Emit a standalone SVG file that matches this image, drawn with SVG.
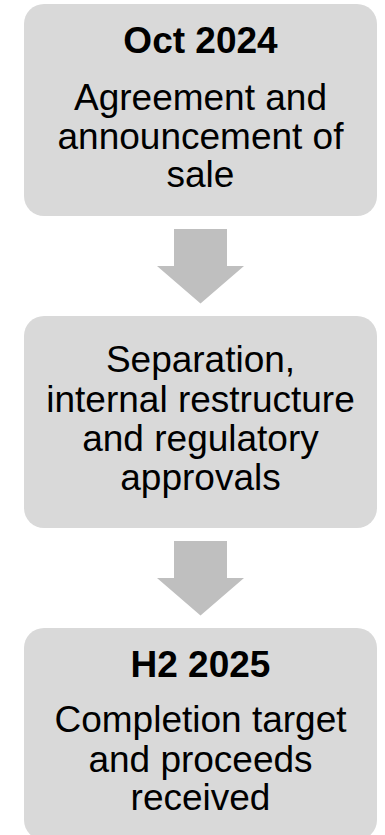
<svg xmlns="http://www.w3.org/2000/svg" width="385" height="835" viewBox="0 0 385 835">
<style>
.box{fill:#d9d9d9}
.arrow{fill:#bfbfbf}
text{font-family:"Liberation Sans",Arial,sans-serif;font-size:37px;fill:#000;text-anchor:middle}
.b{font-weight:bold}
</style>
<rect width="385" height="835" fill="#fff"/>
<g id="connectors">
<polygon class="arrow" points="174,229 227,229 227,266 244,266 200.5,303.5 157,266 174,266"/>
<polygon class="arrow" points="174,541 227,541 227,578 244,578 200.5,615.5 157,578 174,578"/>
</g>
<g id="node1">
<rect class="box" x="24" y="4" width="353" height="212" rx="20"/>
<text class="b" x="200.5" y="53">Oct 2024</text>
<text x="200.5" y="110">Agreement and</text>
<text x="200.5" y="148.5">announcement of</text>
<text x="200.5" y="187">sale</text>
</g>
<g id="node2">
<rect class="box" x="24" y="316" width="353" height="212" rx="20"/>
<text x="200.5" y="372">Separation,</text>
<text x="200.5" y="411.5">internal restructure</text>
<text x="200.5" y="451">and regulatory</text>
<text x="200.5" y="490">approvals</text>
</g>
<g id="node3">
<rect class="box" x="24" y="628" width="353" height="212" rx="20"/>
<text class="b" x="200.5" y="677">H2 2025</text>
<text x="200.5" y="732">Completion target</text>
<text x="200.5" y="771.5">and proceeds</text>
<text x="200.5" y="810">received</text>
</g>
</svg>
